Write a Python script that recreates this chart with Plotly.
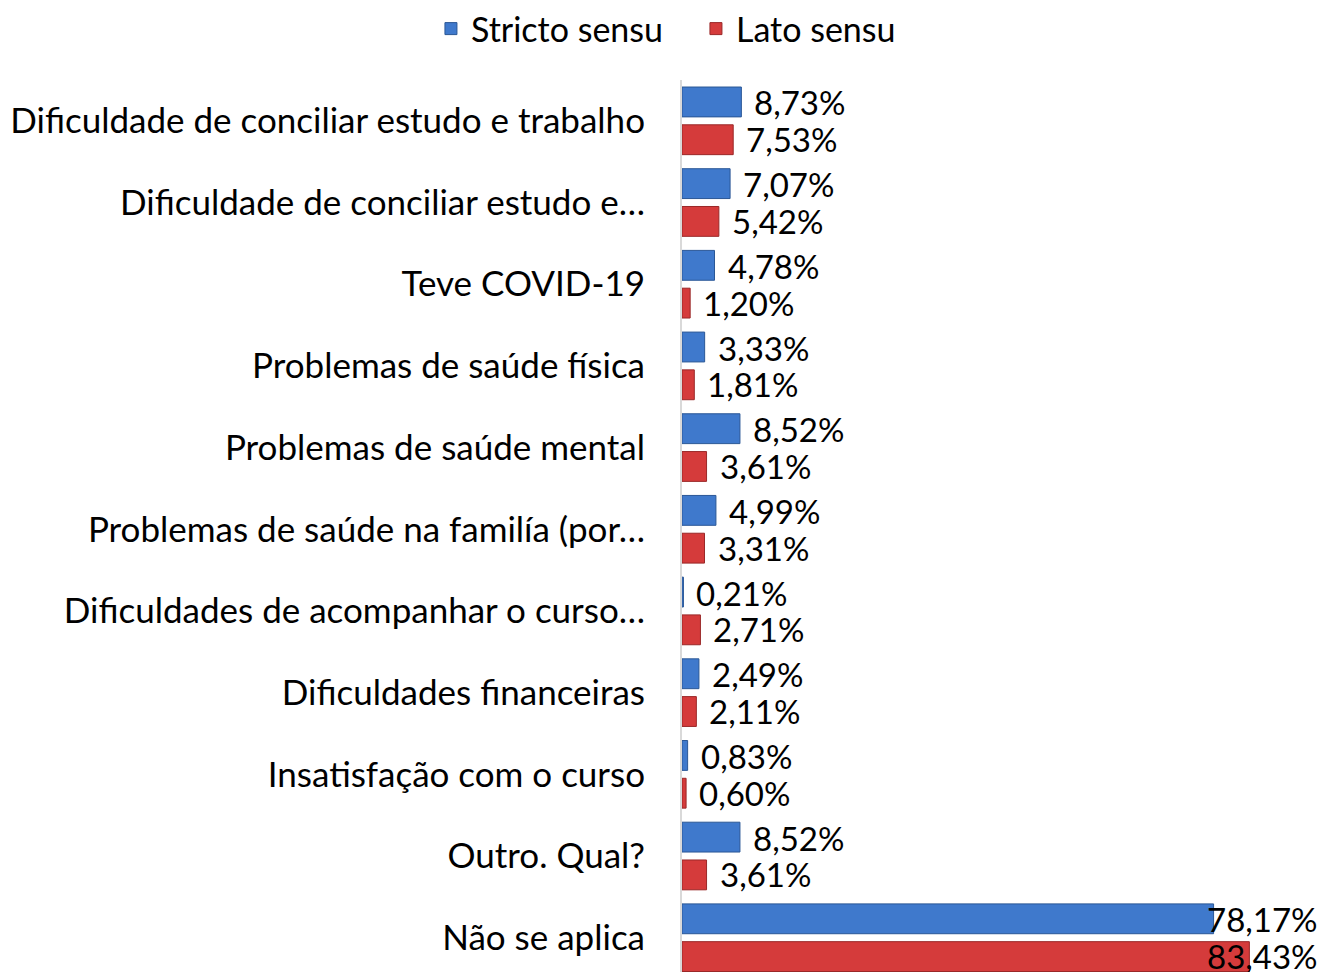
import plotly.graph_objects as go

categories = [
    "Dificuldade de conciliar estudo e trabalho",
    "Dificuldade de conciliar estudo e…",
    "Teve COVID-19",
    "Problemas de saúde física",
    "Problemas de saúde mental",
    "Problemas de saúde na familía (por…",
    "Dificuldades de acompanhar o curso…",
    "Dificuldades financeiras",
    "Insatisfação com o curso",
    "Outro. Qual?",
    "Não se aplica",
]
stricto = [8.73, 7.07, 4.78, 3.33, 8.52, 4.99, 0.21, 2.49, 0.83, 8.52, 78.17]
lato = [7.53, 5.42, 1.20, 1.81, 3.61, 3.31, 2.71, 2.11, 0.60, 3.61, 83.43]
series_names = ["Stricto sensu", "Lato sensu"]

FONT = "Lato"
XMAX = 94.7
idx = list(range(len(categories)))

fig = go.Figure()
fig.add_trace(go.Bar(
    name=series_names[0], y=idx, x=stricto, orientation="h",
    marker=dict(color="#3F79CC", line=dict(color="#2A5796", width=1)),
))
fig.add_trace(go.Bar(
    name=series_names[1], y=idx, x=lato, orientation="h",
    marker=dict(color="#D53B3B", line=dict(color="#9A2828", width=1)),
))

def fmt(v):
    return f"{v:.2f}".replace(".", ",") + "%"

annotations = []
for vals, off in ((stricto, -0.225), (lato, 0.225)):
    for i, v in enumerate(vals):
        yy = i + off
        if v > XMAX * 0.8:
            annotations.append(dict(
                xref="paper", x=1, xanchor="right", xshift=-6,
                yref="y", y=yy, yanchor="middle",
                text=fmt(v), showarrow=False,
                font=dict(family=FONT, size=33, color="#000000"),
            ))
        else:
            annotations.append(dict(
                xref="x", x=v, xanchor="left", xshift=11,
                yref="y", y=yy, yanchor="middle",
                text=fmt(v), showarrow=False,
                font=dict(family=FONT, size=33, color="#000000"),
            ))

fig.update_layout(
    width=1326, height=972,
    paper_bgcolor="white", plot_bgcolor="white",
    margin=dict(l=682, r=0, t=80, b=0),
    barmode="group", bargap=0.075, bargroupgap=0.21,
    font=dict(family=FONT, size=33, color="#000000"),
    showlegend=True,
    legend=dict(
        orientation="h", xref="container", yref="container",
        x=0.325, xanchor="left", y=1.0, yanchor="top",
        font=dict(family=FONT, size=34, color="#000000"),
        traceorder="normal", entrywidth=220,
    ),
    annotations=annotations,
)
fig.update_xaxes(range=[0, XMAX], visible=False, showgrid=False, zeroline=False)
fig.update_yaxes(
    tickmode="array", tickvals=idx, ticktext=categories,
    range=[10.42, -0.5], showgrid=False, zeroline=False,
    showline=True, linecolor="#D9D9D9", linewidth=2,
    ticks="", ticklabelstandoff=28,
    tickfont=dict(family=FONT, size=35, color="#000000"),
)

fig.write_html(
    "out.html",
    config={"displayModeBar": False},
    post_script="document.body.style.margin='0';document.body.style.overflow='hidden';",
)
